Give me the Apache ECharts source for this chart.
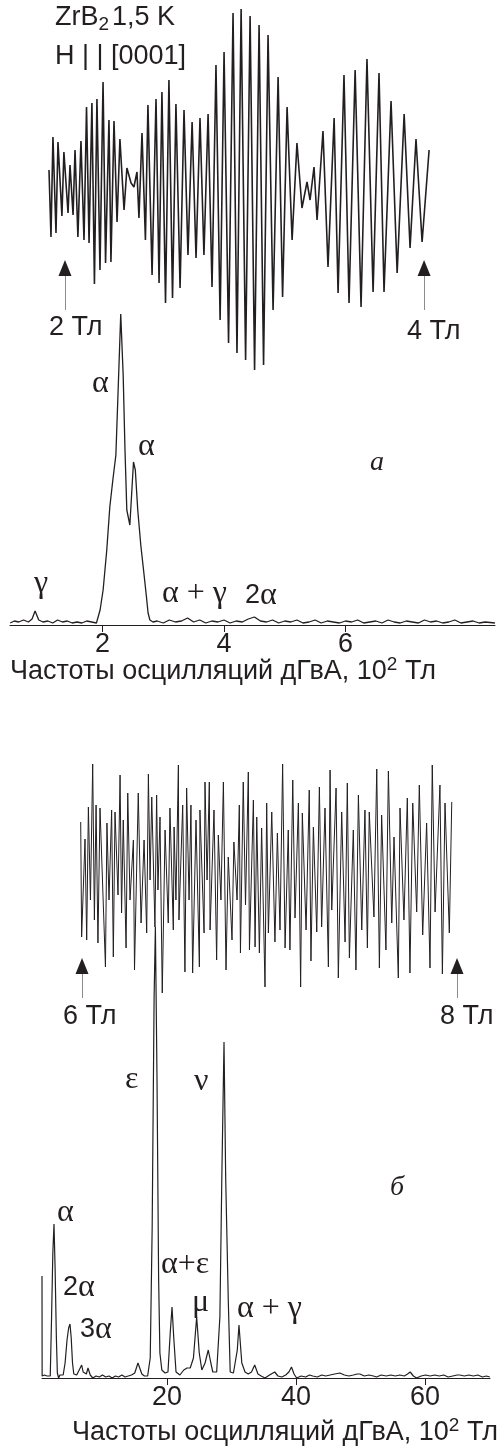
<!DOCTYPE html>
<html>
<head>
<meta charset="utf-8">
<script src="https://cdn.jsdelivr.net/npm/echarts@6/dist/echarts.min.js"></script>
<style>
html,body{margin:0;padding:0;background:#fff}
#main{width:502px;height:1447px}
</style>
</head>
<body>
<div id="main"></div>
<script>
// осцилляции дГвА, 2..4 Тл : [поле, сигнал]
var osc1 = [
	[1.911,15],[1.922,-52],[1.933,48],[1.950,-48],[1.961,43],[1.983,-31],[1.994,33],[2.017,-28],[2.028,20],[2.045,-30],
	[2.056,35],[2.072,-52],[2.089,44],[2.106,-55],[2.120,78],[2.134,-58],[2.150,82],[2.164,-99],[2.178,86],[2.195,-85],
	[2.212,103],[2.226,-78],[2.245,65],[2.256,-77],[2.273,64],[2.290,-37],[2.306,46],[2.329,-25],[2.345,17],[2.368,2],
	[2.384,-2],[2.401,13],[2.412,-33],[2.429,52],[2.448,-55],[2.462,80],[2.485,-90],[2.507,86],[2.524,-98],[2.540,93],
	[2.560,-118],[2.579,105],[2.599,-113],[2.618,81],[2.641,-103],[2.663,75],[2.685,-70],[2.708,63],[2.730,-73],[2.752,67],
	[2.774,-70],[2.797,71],[2.819,-102],[2.841,120],[2.864,-135],[2.886,133],[2.911,-158],[2.936,172],[2.958,-168],[2.981,176],
	[3.006,-175],[3.031,169],[3.056,-185],[3.081,160],[3.106,-180],[3.131,150],[3.159,-125],[3.187,108],[3.212,-112],[3.237,78],
	[3.265,-55],[3.292,42],[3.320,-23],[3.348,3],[3.365,-15],[3.387,18],[3.404,-35],[3.437,54],[3.465,-82],[3.499,67],
	[3.521,-108],[3.554,110],[3.582,-118],[3.616,115],[3.649,-122],[3.682,126],[3.716,-107],[3.749,112],[3.777,-107],[3.816,84],
	[3.850,-88],[3.889,71],[3.922,-63],[3.955,46],[3.989,-57],[4.028,35]
];

// осцилляции дГвА, 6..8 Тл
var osc2 = [
	[5.993,48],[5.998,-67],[6.016,31],[6.025,-70],[6.034,63],[6.045,-30],[6.057,106],[6.066,-50],[6.075,65],[6.085,-73],
	[6.096,62],[6.125,-97],[6.133,47],[6.144,-30],[6.158,60],[6.167,-87],[6.176,58],[6.192,-25],[6.203,95],[6.211,-43],
	[6.220,50],[6.235,-78],[6.244,77],[6.256,-30],[6.274,30],[6.280,-100],[6.300,77],[6.315,-53],[6.331,30],[6.345,-63],
	[6.354,96],[6.363,-10],[6.372,73],[6.389,-57],[6.398,75],[6.405,-20],[6.416,53],[6.428,-123],[6.443,40],[6.460,-53],
	[6.469,62],[6.487,-60],[6.491,43],[6.501,-30],[6.514,105],[6.517,-50],[6.537,65],[6.549,-102],[6.558,82],[6.571,-30],
	[6.581,65],[6.590,-103],[6.608,50],[6.626,-97],[6.629,60],[6.651,-63],[6.656,88],[6.667,-10],[6.679,88],[6.683,-60],
	[6.704,60],[6.718,-90],[6.727,35],[6.741,-30],[6.754,88],[6.768,-100],[6.780,13],[6.800,-70],[6.810,28],[6.827,-30],
	[6.839,65],[6.845,-83],[6.860,88],[6.872,-35],[6.887,98],[6.893,-80],[6.914,70],[6.923,-77],[6.932,53],[6.946,-83],
	[6.958,42],[6.976,-117],[6.985,67],[6.994,-63],[7.012,58],[7.029,-72],[7.042,37],[7.056,-60],[7.070,106],[7.083,-78],
	[7.100,40],[7.109,-80],[7.124,90],[7.136,-48],[7.154,67],[7.166,-117],[7.175,57],[7.195,-60],[7.212,80],[7.221,-91],
	[7.234,43],[7.252,-62],[7.266,83],[7.278,-57],[7.296,62],[7.314,-97],[7.323,100],[7.332,-40],[7.355,82],[7.367,-108],
	[7.385,58],[7.403,-72],[7.415,87],[7.426,-88],[7.447,40],[7.461,-100],[7.474,75],[7.492,-60],[7.509,60],[7.522,-78],
	[7.532,58],[7.557,-47],[7.572,101],[7.586,-98],[7.598,55],[7.621,-80],[7.634,99],[7.652,-53],[7.664,33],[7.687,-108],
	[7.696,62],[7.717,-50],[7.735,72],[7.749,-103],[7.764,67],[7.785,-42],[7.799,85],[7.817,-65],[7.838,47],[7.856,-98],
	[7.868,105],[7.883,-42],[7.909,85],[7.922,-104],[7.936,67],[7.959,-63],[7.972,68]
];

// спектр (а): [частота, 10^2 Тл ; амплитуда]
var specA = [
	[0.48,2],[0.55,4],[0.62,3],[0.70,5],[0.78,3],[0.84,6],[0.89,14],[0.95,5],[1.02,3],[1.10,4],
	[1.18,2],[1.26,5],[1.34,3],[1.42,4],[1.50,2],[1.58,3],[1.66,2],[1.74,4],[1.82,3],[1.90,2],
	[1.93,3],[1.96,15],[2.01,35],[2.07,75],[2.12,118],[2.17,145],[2.22,170],[2.26,240],[2.30,311],[2.34,250],
	[2.37,175],[2.40,115],[2.45,100],[2.51,163],[2.54,155],[2.58,115],[2.63,80],[2.67,58],[2.72,30],[2.75,12],
	[2.78,5],[2.83,3],[2.90,4],[3.00,2],[3.10,5],[3.20,3],[3.30,4],[3.40,7],[3.50,3],[3.60,5],
	[3.70,2],[3.80,4],[3.90,3],[4.00,5],[4.10,2],[4.20,4],[4.30,3],[4.40,6],[4.50,8],[4.60,4],
	[4.70,3],[4.80,5],[4.90,2],[5.00,4],[5.10,3],[5.20,5],[5.30,2],[5.40,3],[5.50,5],[5.60,2],
	[5.70,4],[5.80,3],[5.90,2],[6.00,4],[6.10,3],[6.20,5],[6.30,2],[6.40,3],[6.50,4],[6.60,2],
	[6.70,5],[6.80,3],[6.90,2],[7.00,4],[7.10,3],[7.20,2],[7.30,5],[7.40,3],[7.50,4],[7.60,2],
	[7.70,3],[7.80,5],[7.90,2],[8.00,3],[8.10,4],[8.20,2],[8.30,3],[8.46,2]
];

// спектр (б)
var specB = [
	[0.62,102],[0.64,2],[0.8,1],[1.0,3],[1.2,1],[1.4,2],[1.7,0],[1.9,2],[2.1,60],[2.3,125],
	[2.48,154],[2.65,110],[2.85,40],[3.0,5],[3.2,0],[3.4,3],[3.6,1],[3.9,3],[4.2,15],[4.5,38],
	[4.75,50],[4.96,54],[5.15,40],[5.35,15],[5.55,4],[5.74,6],[6.0,3],[6.3,5],[6.77,13],[7.0,6],
	[7.29,8],[7.5,4],[7.75,10],[8.1,3],[8.5,0],[9.0,2],[9.5,1],[10,3],[10.5,1],[11,2],
	[11.5,0],[12,2],[12.5,1],[13,3],[13.5,1],[14,2],[14.5,3],[15.0,5],[15.5,15],[16.1,4],
	[16.5,2],[17.0,2],[17.4,20],[17.7,150],[18.0,380],[18.2,451],[18.45,300],[18.7,100],[18.9,25],[19.2,8],
	[19.4,8],[19.7,5],[20.15,6],[20.5,45],[20.78,71],[21.05,40],[21.4,6],[22.0,3],[22.6,8],[23.1,10],
	[23.6,10],[24.1,20],[24.6,61],[25.0,25],[25.4,8],[25.9,15],[26.4,28],[26.8,15],[27.1,6],[27.7,6],
	[28.2,61],[28.5,200],[28.84,336],[29.1,200],[29.5,78],[29.8,6],[30.3,5],[30.9,28],[31.16,53],[31.6,15],
	[32.1,6],[32.6,4],[33.1,6],[33.6,13],[34.1,4],[34.6,2],[35.2,0],[35.9,3],[36.7,6],[37.2,2],
	[37.8,1],[38.4,3],[38.9,6],[39.3,11],[39.7,4],[40.1,0],[40.8,2],[41.5,1],[42.1,3],[42.6,2],
	[43.3,1],[44,3],[44.6,2],[45.3,3],[46.0,4],[46.8,5],[47.5,3],[48.2,2],[48.9,3],[49.5,4],
	[49.9,4],[50.6,2],[51.3,3],[52.0,2],[52.5,1],[53.2,3],[54.0,2],[54.7,3],[55.4,2],[56.1,3],
	[56.8,2],[57.3,4],[57.7,6],[58.2,2],[58.7,0],[59.4,2],[60.1,3],[60.8,2],[61.5,3],[62.2,2],
	[62.9,3],[63.6,1],[64.3,2],[65.0,3],[65.4,3],[66.1,2],[66.8,3],[67.5,2],[68.2,3],[68.9,1],
	[69.5,2],[70.05,1]
];

var ticksA = [2, 4, 6];
var ticksB = [20, 40, 60];
var fieldA = [2, 4];
var fieldB = [6, 8];

var ink = '#231f20';
var sans = '"Liberation Sans", Arial, sans-serif';
var serif = '"Liberation Serif", "Times New Roman", serif';

var main = document.getElementById('main');
var myChart = echarts.init(main);

function arrows(marks, low, high) {
	var lines = [], heads = [];
	for (var i = 0; i < marks.length; i++) {
		lines.push([{coord: [marks[i], low]}, {coord: [marks[i], high]}]);
		heads.push({coord: [marks[i], high - 3]});
	}
	return {
		markLine: {silent: true, symbol: ['none', 'none'], label: {show: false},
			lineStyle: {color: '#8c8c8c', width: 1, type: 'solid'}, data: lines},
		markPoint: {silent: true, symbol: 'triangle', symbolSize: [13, 16], label: {show: false},
			itemStyle: {color: ink}, data: heads}
	};
}

function freqAxis(idx, min, max, ticks) {
	return {
		gridIndex: idx, type: 'value', min: min, max: max,
		axisLine: {lineStyle: {color: ink, width: 1}},
		axisTick: {customValues: ticks, length: 7, lineStyle: {color: ink}},
		axisLabel: {customValues: ticks, margin: 6, fontSize: 27, fontFamily: sans, color: ink},
		splitLine: {show: false}
	};
}

function hidden(idx, min, max) {
	return {gridIndex: idx, type: 'value', min: min, max: max, show: false, splitLine: {show: false}};
}

function label(x, y, text, font, rich) {
	var s = {text: text, x: 0, y: 0, fill: ink, font: font, align: 'left', verticalAlign: 'middle'};
	if (rich) s.rich = rich;
	return {type: 'text', x: x, y: y, silent: true, style: s};
}

var big = '27px ' + sans;
var greek = '32px ' + serif;
var richTitle = {
	n: {fontSize: 27, fontFamily: sans, fill: ink, lineHeight: 33},
	s: {fontSize: 19, fontFamily: sans, fill: ink, lineHeight: 19, padding: [0, 0, 14, 0]}
};
var richSub = {
	n: {fontSize: 27, fontFamily: sans, fill: ink, lineHeight: 33},
	s: {fontSize: 19, fontFamily: sans, fill: ink, lineHeight: 19, padding: [14, 3, 0, 0]}
};
var richMix = {
	d: {fontSize: 27, fontFamily: sans, fill: ink},
	g: {fontSize: 32, fontFamily: serif, fill: ink}
};

var a1 = arrows(fieldA, -125, -80);
var a2 = arrows(fieldB, -128, -93);

var option = {
	animation: false,
	backgroundColor: '#fff',
	grid: [
		{left: 49, top: 9, width: 381, height: 361},
		{left: 10, top: 314, width: 485, height: 311},
		{left: 80, top: 760, width: 380, height: 245},
		{left: 42, top: 927, width: 448, height: 451}
	],
	xAxis: [
		hidden(0, 1.911, 4.033),
		freqAxis(1, 0.477, 8.461, ticksA),
		hidden(2, 5.9893, 8.016),
		freqAxis(3, 0.62, 70.08, ticksB)
	],
	yAxis: [
		hidden(0, -185, 176),
		hidden(1, 0, 311),
		hidden(2, -135, 110),
		hidden(3, 0, 451)
	],
	series: [
		{type: 'line', xAxisIndex: 0, yAxisIndex: 0, data: osc1, showSymbol: false,
			lineStyle: {color: ink, width: 1.6}, markLine: a1.markLine, markPoint: a1.markPoint},
		{type: 'line', xAxisIndex: 1, yAxisIndex: 1, data: specA, showSymbol: false,
			lineStyle: {color: ink, width: 1.3}},
		{type: 'line', xAxisIndex: 2, yAxisIndex: 2, data: osc2, showSymbol: false,
			lineStyle: {color: ink, width: 1}, markLine: a2.markLine, markPoint: a2.markPoint},
		{type: 'line', xAxisIndex: 3, yAxisIndex: 3, data: specB, showSymbol: false,
			lineStyle: {color: ink, width: 1.2}}
	],
	graphic: [
		label(55, 18, '{n|ZrB}{s|2}{n|1,5 K}', big, richSub),
		label(55, 57, 'H | | [0001]', big),
		label(49, 328, '2 Тл', big),
		label(407, 332, '4 Тл', big),
		label(92, 384, 'α', greek),
		label(138, 447, 'α', greek),
		label(34, 584, 'γ', greek),
		label(162, 594, 'α + γ', greek),
		label(245, 596, '{d|2}{g|α}', big, richMix),
		label(370, 463, 'а', 'italic 28px ' + serif),
		label(10, 672, '{n|Частоты осцилляций дГвА, 10}{s|2}{n| Тл}', big, richTitle),
		label(63, 1017, '6 Тл', big),
		label(440, 1017, '8 Тл', big),
		label(125, 1080, 'ε', greek),
		label(194, 1082, 'ν', greek),
		label(390, 1188, 'б', 'italic 28px ' + serif),
		label(57, 1213, 'α', greek),
		label(63, 1288, '{d|2}{g|α}', big, richMix),
		label(80, 1330, '{d|3}{g|α}', big, richMix),
		label(161, 1265, 'α+ε', greek),
		label(192, 1303, 'μ', greek),
		label(237, 1309, 'α + γ', greek),
		label(72, 1433, '{n|Частоты осцилляций дГвА, 10}{s|2}{n| Тл}', big, richTitle)
	]
};
myChart.setOption(option);
</script>
</body>
</html>
